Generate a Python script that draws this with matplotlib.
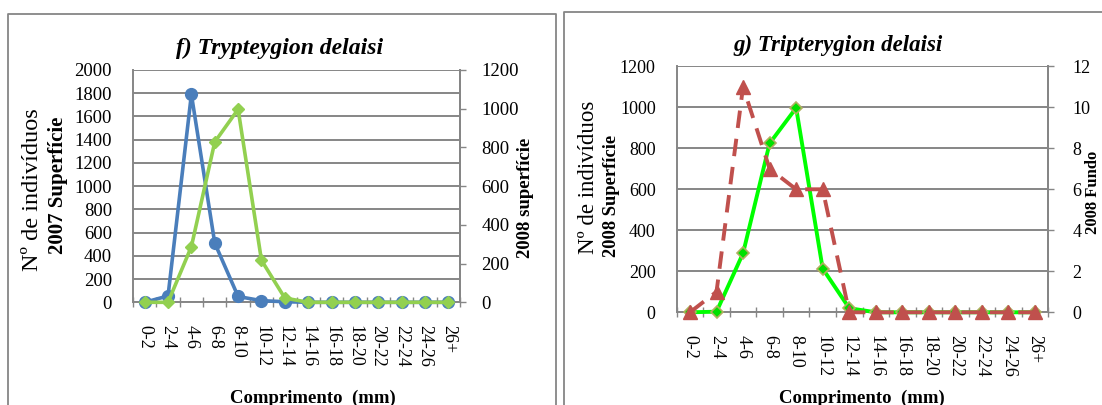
import matplotlib
matplotlib.use("Agg")
import matplotlib.pyplot as plt
from matplotlib.lines import Line2D
import numpy as np

# Size classes (mm)
categories = ["0-2", "2-4", "4-6", "6-8", "8-10", "10-12", "12-14",
              "14-16", "16-18", "18-20", "20-22", "22-24", "24-26", "26+"]

# f) Trypteygion delaisi
sup_2007 = [0, 55, 1790, 510, 50, 14, 5, 0, 0, 0, 0, 0, 0, 0]
sup_2008 = [0, 0, 288, 828, 997, 217, 22, 0, 0, 0, 0, 0, 0, 0]

# g) Tripterygion delaisi
sup_2008_g = [0, 3, 288, 824, 997, 213, 20, 0, 0, 0, 0, 0, 0, 0]
fundo_2008 = [0, 1, 11, 7, 6, 6, 0, 0, 0, 0, 0, 0, 0, 0]

left_ticks = list(range(0, 2001, 200))
left_ticks2 = list(range(0, 1201, 200))
right_ticks = list(range(0, 1201, 200))
right_ticks2 = list(range(0, 13, 2))

W, H = 1102, 405
plt.rcParams["font.family"] = ["Liberation Serif", "DejaVu Serif"]
fig = plt.figure(figsize=(W / 100, H / 100), dpi=100)

GRAY = "#868686"


def fx(px):
    return px / W


def fy(py):
    return 1 - py / H


def box(x0, x1, y0, y1):
    return [fx(x0), fy(y1), fx(x1) - fx(x0), fy(y0) - fy(y1)]


# panel frames
for xs, ys in [([7.7, 7.7, 556, 556], [420, 14, 14, 420]),
               ([564, 564, 1120], [420, 12, 12])]:
    fig.add_artist(Line2D([fx(v) for v in xs], [fy(v) for v in ys],
                          color=GRAY, lw=1.3, transform=fig.transFigure))


def style_axes(ax, ax2, ymax, yticks, ymax2, yticks2, ypad, y2pad, ysize):
    x = np.arange(len(categories))
    ax.set_xlim(-0.5, len(categories) - 0.5)
    ax.set_ylim(0, ymax)
    ax.set_yticks(yticks)
    ax2.set_ylim(0, ymax2)
    ax2.set_yticks(yticks2)
    ax.set_xticks(x)
    ax.set_xticklabels(categories, rotation=-90, fontsize=13)
    ax.set_xticks(np.arange(-0.5, len(categories) + 0.5, 1), minor=True)
    ax.tick_params(axis="x", which="major", length=0, pad=23 * 0.72)
    ax.tick_params(axis="x", which="minor", direction="inout", length=7.5,
                   width=1.0, color=GRAY)
    ax.tick_params(axis="y", length=0, pad=ypad, labelsize=ysize)
    ax2.tick_params(axis="y", direction="out", length=4, width=1.0,
                    color=GRAY, pad=y2pad, labelsize=ysize)
    for t in ax.get_xticklabels():
        t.set_va("top")
        t.set_ha("center")
    ax.grid(axis="y", color=GRAY, lw=1.4)
    ax.set_axisbelow(True)
    for name, sp in ax.spines.items():
        sp.set_color(GRAY)
        sp.set_linewidth(1.4)
    ax.spines["top"].set_visible(False)
    for name, sp in ax2.spines.items():
        sp.set_visible(name == "right")
        sp.set_color(GRAY)
        sp.set_linewidth(1.4)


# ---- f) panel ----
axf = fig.add_axes(box(133, 460, 70, 302.3))
axf2 = axf.twinx()
xi = np.arange(len(categories))
axf.plot(xi, sup_2007, color="#4A7EBB", lw=2.6, marker="o", ms=8.5,
         clip_on=False, zorder=3)
axf2.plot(xi, sup_2008, color="#92D050", lw=2.6, marker="D", ms=6.5,
          clip_on=False, zorder=3)
style_axes(axf, axf2, 2000, left_ticks, 1200, left_ticks2,
           21 * 0.72, 16 * 0.72, 13.5)

fig.text(fx(280), fy(48), "f) Trypteygion delaisi", ha="center", va="center",
         fontsize=17, fontweight="bold", fontstyle="italic")
fig.text(fx(33), fy(190), "Nº de indivíduos", rotation=90, ha="center",
         va="center", fontsize=17.5)
fig.text(fx(58), fy(185), "2007 Superfície", rotation=90, ha="center",
         va="center", fontsize=15, fontweight="bold")
fig.text(fx(526), fy(198), "2008 superfície", rotation=90, ha="center",
         va="center", fontsize=13.5, fontweight="bold")
fig.text(fx(313), fy(398), "Comprimento  (mm)", ha="center", va="center",
         fontsize=13.5, fontweight="bold")

# ---- g) panel ----
axg = fig.add_axes(box(676.7, 1048.3, 66.3, 312.3))
axg2 = axg.twinx()
axg.plot(xi, sup_2008_g, color="#00FF00", lw=2.8, marker="D", ms=6,
         mfc="#00E000", mec="#B0B060", mew=1.2, clip_on=False, zorder=3)
axg2.plot(xi, fundo_2008, color="#C0504D", lw=2.8, ls=(0, (4.5, 2.8)),
          marker="^", ms=9.5, clip_on=False, zorder=3)
style_axes(axg, axg2, 1200, right_ticks, 12, right_ticks2,
           21 * 0.72, 18.5 * 0.72, 13)

fig.text(fx(838), fy(45), "g) Tripterygion delaisi", ha="center", va="center",
         fontsize=16.5, fontweight="bold", fontstyle="italic")
fig.text(fx(588), fy(177), "Nº de indivíduos", rotation=90, ha="center",
         va="center", fontsize=16.5)
fig.text(fx(612), fy(196), "2008 Superfície", rotation=90, ha="center",
         va="center", fontsize=13.3, fontweight="bold")
fig.text(fx(1093), fy(192), "2008 Fundo", rotation=90, ha="center",
         va="center", fontsize=12, fontweight="bold")
fig.text(fx(862), fy(398), "Comprimento  (mm)", ha="center", va="center",
         fontsize=13.5, fontweight="bold")

fig.savefig("out.png", dpi=100, facecolor="white")
